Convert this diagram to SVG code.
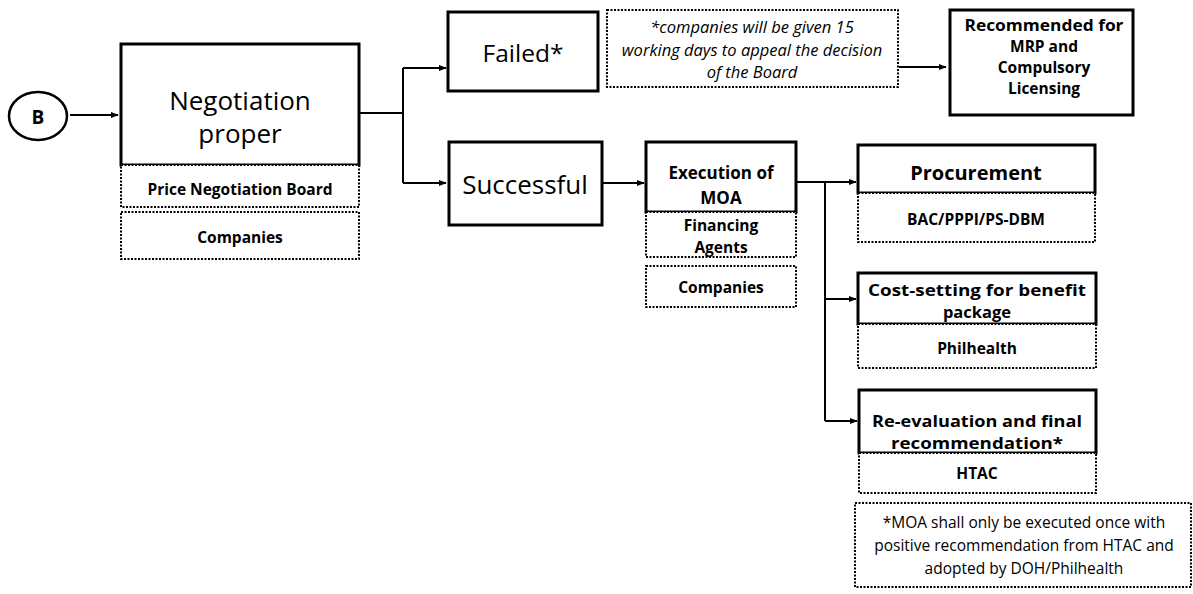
<svg xmlns="http://www.w3.org/2000/svg" width="1193" height="594" viewBox="0 0 1193 594">
<defs>
<style>
text{font-family:"Open Sans","Liberation Sans",sans-serif;fill:#000;text-anchor:middle;dominant-baseline:central}
.solid{fill:#fff;stroke:#000;stroke-width:3}
.dot{fill:#fff;stroke:#000;stroke-width:2;stroke-dasharray:2 1.5}
.big{font-size:24.5px}
.b{font-weight:bold;font-size:15.5px}
.bm{font-weight:bold;font-size:17px}
.bl{font-weight:bold;font-size:16.5px}
.it{font-style:italic;font-size:16.5px}
.n{font-size:15.5px}
.c{fill:none;stroke:#000;stroke-width:2}
</style>
<marker id="ah" viewBox="0 0 10 10" refX="9" refY="5" markerWidth="4" markerHeight="4" orient="auto" markerUnits="strokeWidth">
<path d="M0,1 L10,5 L0,9 z" fill="#000"/>
</marker>
</defs>
<rect width="1193" height="594" fill="#fff"/>

<g id="connectors">
<path class="c" d="M70,115 H118" marker-end="url(#ah)"/>
<path class="c" d="M359,113 H403"/>
<path class="c" d="M403,68 V183"/>
<path class="c" d="M403,68 H446" marker-end="url(#ah)"/>
<path class="c" d="M403,183 H446" marker-end="url(#ah)"/>
<path class="c" d="M899,67 H946" marker-end="url(#ah)"/>
<path class="c" d="M603,183 H644" marker-end="url(#ah)"/>
<path class="c" d="M797,182 H856" marker-end="url(#ah)"/>
<path class="c" d="M825,182 V421"/>
<path class="c" d="M825,299 H856" marker-end="url(#ah)"/>
<path class="c" d="M825,421 H857" marker-end="url(#ah)"/>
</g>

<g id="nodeB">
<ellipse cx="38" cy="116" rx="29" ry="24" fill="#fff" stroke="#000" stroke-width="2.5"/>
<text x="38" y="117" style="font-weight:bold;font-size:19px">B</text>
</g>

<g id="negotiation">
<rect class="solid" x="121" y="44" width="238" height="121"/>
<rect class="dot" x="121" y="165" width="238" height="42"/>
<text class="big" x="240" y="100" style="font-size:26px">Negotiation</text>
<text class="big" x="240" y="133" style="font-size:26px">proper</text>
<text class="b" x="240" y="189">Price Negotiation Board</text>
</g>
<g id="companies1">
<rect class="dot" x="121" y="212" width="238" height="47"/>
<text class="b" x="240" y="237">Companies</text>
</g>

<g id="failed">
<rect class="solid" x="448" y="12" width="150" height="79"/>
<text class="big" x="523" y="52">Failed*</text>
</g>

<g id="note1">
<rect class="dot" x="607" y="10" width="291" height="77"/>
<text class="it" x="752" y="26">*companies will be given 15</text>
<text class="it" x="752" y="49">working days to appeal the decision</text>
<text class="it" x="752" y="71">of the Board</text>
</g>

<g id="recommended">
<rect class="solid" x="950" y="10" width="183" height="105"/>
<text class="b" x="1044" y="25" style="font-size:15.5px" textLength="159" lengthAdjust="spacingAndGlyphs">Recommended for</text>
<text class="b" x="1044" y="46" style="font-size:15.5px">MRP and</text>
<text class="b" x="1044" y="67" style="font-size:15.5px">Compulsory</text>
<text class="b" x="1044" y="88" style="font-size:15.5px">Licensing</text>
</g>

<g id="successful">
<rect class="solid" x="449" y="142" width="153" height="83"/>
<text class="big" x="525" y="184" style="font-size:26px">Successful</text>
</g>

<g id="execution">
<rect class="solid" x="646" y="142" width="150" height="70"/>
<rect class="dot" x="646" y="212" width="150" height="45"/>
<text class="bm" x="721" y="172">Execution of</text>
<text class="bm" x="721" y="197">MOA</text>
<text class="b" x="721" y="225">Financing</text>
<text class="b" x="721" y="247">Agents</text>
</g>
<g id="companies2">
<rect class="dot" x="646" y="266" width="150" height="41"/>
<text class="b" x="721" y="287">Companies</text>
</g>

<g id="procurement">
<rect class="solid" x="858" y="145" width="237" height="48"/>
<rect class="dot" x="858" y="193" width="237" height="49"/>
<text class="bl" x="976" y="172" style="font-size:20px">Procurement</text>
<text class="b" x="976" y="219">BAC/PPPI/PS-DBM</text>
</g>

<g id="costsetting">
<rect class="solid" x="858" y="273" width="238" height="51"/>
<rect class="dot" x="858" y="324" width="238" height="44"/>
<text class="bl" x="977" y="289" textLength="218" lengthAdjust="spacingAndGlyphs">Cost-setting for benefit</text>
<text class="bl" x="977" y="311">package</text>
<text class="b" x="977" y="348">Philhealth</text>
</g>

<g id="reevaluation">
<rect class="solid" x="859" y="390" width="237" height="63"/>
<rect class="dot" x="859" y="453" width="237" height="40"/>
<text class="bl" x="977" y="420" textLength="210" lengthAdjust="spacingAndGlyphs">Re-evaluation and final</text>
<text class="bl" x="977" y="442" textLength="172" lengthAdjust="spacingAndGlyphs">recommendation*</text>
<text class="b" x="977" y="473">HTAC</text>
</g>

<g id="note2">
<rect class="dot" x="855" y="503" width="336" height="84"/>
<text class="n" x="1024" y="522">*MOA shall only be executed once with</text>
<text class="n" x="1024" y="545">positive recommendation from HTAC and</text>
<text class="n" x="1024" y="568">adopted by DOH/Philhealth</text>
</g>
</svg>
